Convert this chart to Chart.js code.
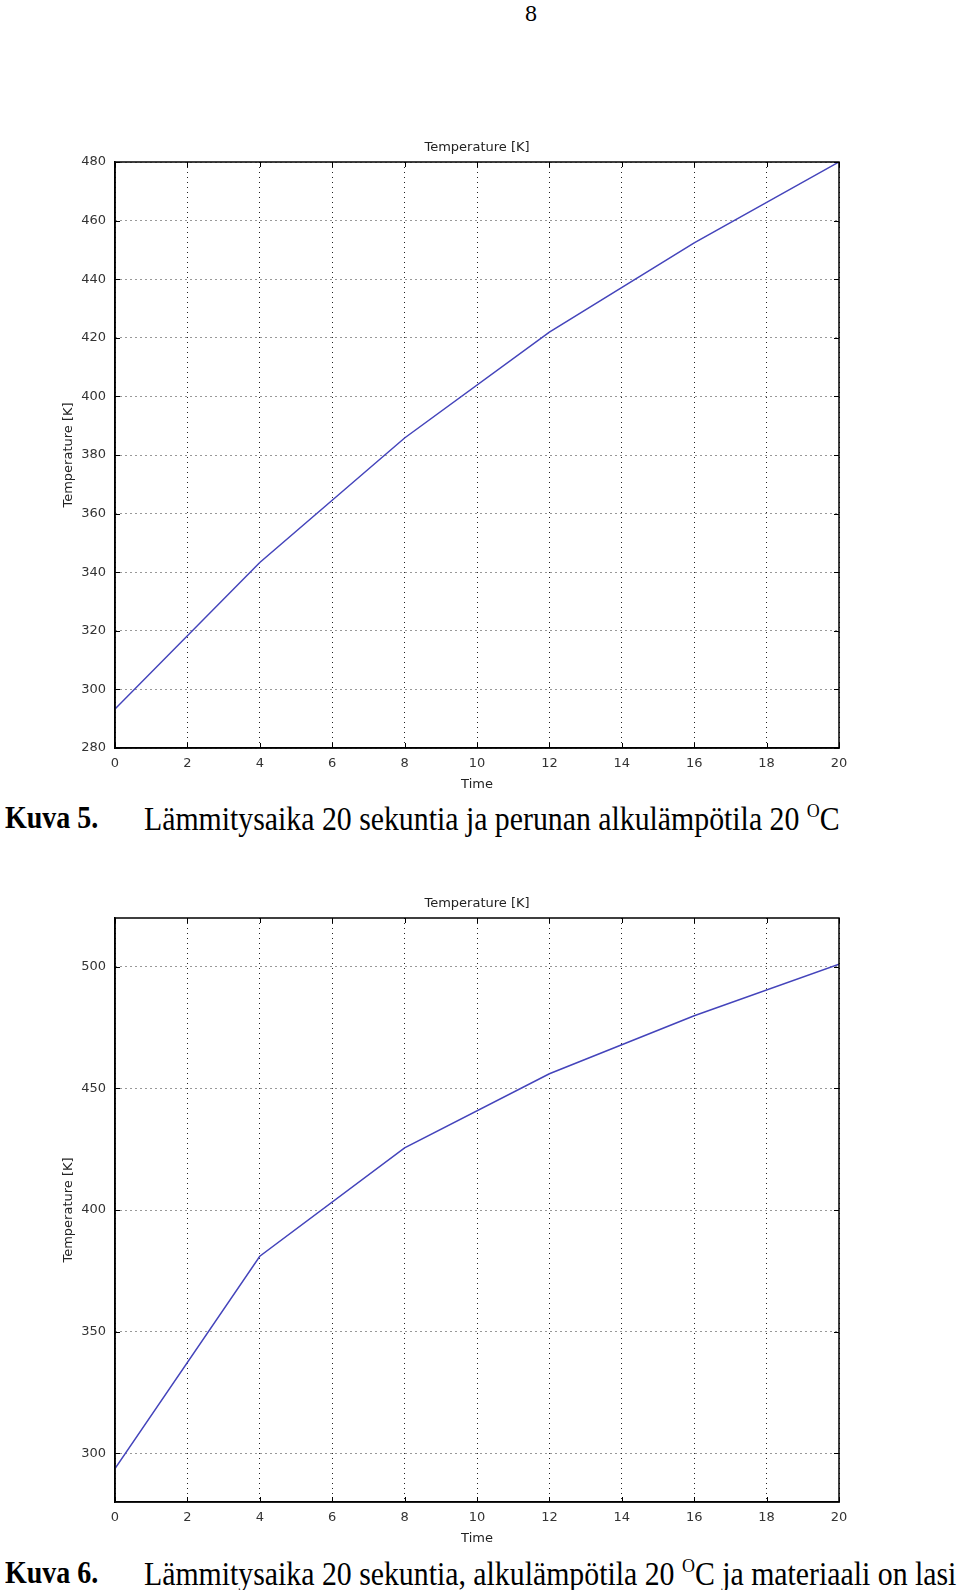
<!DOCTYPE html>
<html lang="fi">
<head>
<meta charset="utf-8">
<title>Kuva 5 ja 6</title>
<script src="https://cdn.jsdelivr.net/npm/chart.js"></script>
<style>
  html, body { margin: 0; padding: 0; background: #fff; }
  #pagina { position: relative; width: 960px; height: 1590px; overflow: hidden; }
  canvas { position: absolute; left: 0; }
  #grafico1 { top: 120px; }
  #grafico2 { top: 876px; }
  .numero { position: absolute; top: 0; left: 0; width: 1062px; text-align: center;
            font: 24px "Liberation Serif", "Times New Roman", serif; color: #000; }
  .kuva { position: absolute; left: 5px; font: bold 28px "Liberation Serif", "Times New Roman", serif;
          color: #000; white-space: nowrap; transform: scaleY(1.12); }
  .teksti { position: absolute; left: 144px; font: 29.8px "Liberation Serif", "Times New Roman", serif;
            color: #000; white-space: nowrap; transform: scaleY(1.1); }
  .teksti sup { font-size: 18px; vertical-align: 0; position: relative; top: -12px; }
  #kuva5, #teksti5 { top: 802px; }
  #kuva6, #teksti6 { top: 1557px; }
</style>
</head>
<body>
<div id="pagina">
  <div class="numero">8</div>
  <canvas id="grafico1" width="960" height="672"></canvas>
  <div class="kuva" id="kuva5">Kuva 5.</div>
  <div class="teksti" id="teksti5">Lämmitysaika 20 sekuntia ja perunan alkulämpötila 20 <sup>O</sup>C</div>
  <canvas id="grafico2" width="960" height="670"></canvas>
  <div class="kuva" id="kuva6">Kuva 6.</div>
  <div class="teksti" id="teksti6">Lämmitysaika 20 sekuntia, alkulämpötila 20 <sup>O</sup>C ja materiaali on lasi</div>
</div>

<script>
// Datos (cada 4 segundos)
const tiempo = [0, 4, 8, 12, 16, 20];
const temperaturaPeruna = [293.3, 343.3, 385.8, 421.9, 452.4, 480];
const temperaturaLasi = [293.7, 381.0, 425.5, 456.0, 479.8, 501.0];

const ticksTiempo = [0, 2, 4, 6, 8, 10, 12, 14, 16, 18, 20];
const ticksPeruna = [280, 300, 320, 340, 360, 380, 400, 420, 440, 460, 480];
const ticksLasi = [300, 350, 400, 450, 500];

const tituloGrafico = 'Temperature [K]';
const fuente = { family: 'DejaVu Sans', size: 13, weight: 'normal' };

// Marco completo, marcas cortas hacia dentro y título centrado sobre el área del gráfico
const marcoPlugin = {
  id: 'marco',
  afterDraw(chart) {
    const { ctx, chartArea, scales } = chart;
    const { left, right, top, bottom } = chartArea;
    ctx.save();
    ctx.strokeStyle = '#000';
    ctx.lineWidth = 1;
    ctx.beginPath();
    scales.x.ticks.forEach(t => {
      const px = Math.round(scales.x.getPixelForValue(t.value)) + 0.5;
      ctx.moveTo(px, bottom); ctx.lineTo(px, bottom - 5);
      ctx.moveTo(px, top); ctx.lineTo(px, top + 5);
    });
    scales.y.ticks.forEach(t => {
      const py = Math.round(scales.y.getPixelForValue(t.value)) + 0.5;
      ctx.moveTo(left, py); ctx.lineTo(left + 5, py);
      ctx.moveTo(right, py); ctx.lineTo(right - 5, py);
    });
    ctx.stroke();
    ctx.lineWidth = 1.5;
    ctx.strokeRect(left, top, right - left, bottom - top);

    ctx.fillStyle = '#222';
    ctx.font = '13px "DejaVu Sans"';
    ctx.textAlign = 'center';
    ctx.textBaseline = 'middle';
    ctx.fillText(tituloGrafico, (left + right) / 2, top - 14);
    ctx.restore();
  }
};

function crearGrafico(id, datos, min, max, marcas) {
  const ctx = document.getElementById(id);
  return new Chart(ctx, {
    type: 'line',
    data: {
      datasets: [{
        label: tituloGrafico,
        data: tiempo.map((t, i) => ({ x: t, y: datos[i] })),
        borderColor: '#4444bb',
        borderWidth: 1.5,
        pointRadius: 0,
        tension: 0,
        fill: false
      }]
    },
    options: {
      responsive: false,
      animation: false,
      layout: { padding: { left: 61, right: 121, top: 42, bottom: 0 } },
      plugins: {
        legend: { display: false },
        tooltip: { enabled: false },
        title: { display: false }
      },
      scales: {
        x: {
          type: 'linear',
          min: 0,
          max: 20,
          afterBuildTicks: s => { s.ticks = ticksTiempo.map(v => ({ value: v })); },
          afterFit: s => { s.height = 44; },
          ticks: { color: '#333', font: fuente, padding: 8, maxRotation: 0 },
          grid: { color: '#222', lineWidth: 1, drawTicks: false },
          border: { display: true, color: '#000', width: 1.5, dash: [1, 4] },
          title: { display: true, text: 'Time', color: '#222', font: fuente, padding: 0 }
        },
        y: {
          type: 'linear',
          min: min,
          max: max,
          afterBuildTicks: s => { s.ticks = marcas.map(v => ({ value: v })); },
          afterFit: s => { s.width = 54; },
          ticks: { color: '#333', font: fuente, padding: 9 },
          grid: { color: '#333', lineWidth: 1, drawTicks: false },
          border: { display: true, color: '#000', width: 1.5, dash: [1, 4] },
          title: { display: true, text: tituloGrafico, color: '#222', font: fuente, padding: 0 }
        }
      }
    },
    plugins: [marcoPlugin]
  });
}

document.addEventListener('DOMContentLoaded', () => {
  if (typeof Chart === 'undefined') {
    console.warn('Chart.js no está cargado');
    return;
  }
  crearGrafico('grafico1', temperaturaPeruna, 280, 480, ticksPeruna);
  crearGrafico('grafico2', temperaturaLasi, 280, 520, ticksLasi);
});
</script>
</body>
</html>
